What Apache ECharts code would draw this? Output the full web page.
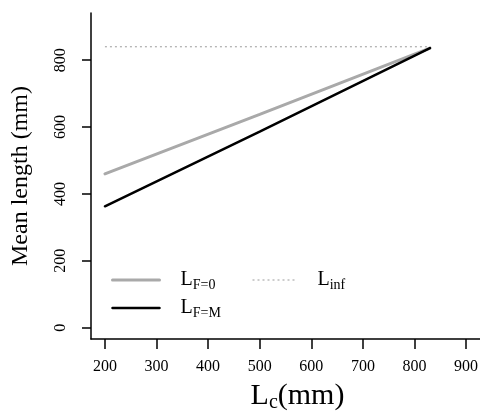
<!DOCTYPE html>
<html>
<head>
<meta charset="utf-8">
<script src="https://cdn.jsdelivr.net/npm/echarts@6/dist/echarts.min.js"></script>
<style>
  html, body { margin: 0; padding: 0; background: #fff; }
  #chart { width: 480px; height: 412px; }
</style>
</head>
<body>
<div id="chart"></div>
<script>
// Size at first capture (Lc, mm) and mean length in the catch (mm)
const lc = [200, 500, 830];
const meanNoFishing = [460, 638, 836];   // L_{F=0}
const meanFishingM = [363, 586, 836];    // L_{F=M}
const lInfRange = [200, 830];
const lInfValue = [840, 840];            // asymptotic length

const xTicks = [200, 300, 400, 500, 600, 700, 800, 900];
const yTicks = [0, 200, 400, 600, 800];

const serif = '"Liberation Serif", "DejaVu Serif", serif';
const pairs = (xs, ys) => xs.map((x, i) => [x, ys[i]]);

const rich = {
  L: { fontFamily: serif, fontSize: 20, color: '#000' },
  s: { fontFamily: serif, fontSize: 14, color: '#000', padding: [10, 0, 0, 0] }
};
const legendLabel = {
  'F0': '{L|L}{s|F=0}',
  'FM': '{L|L}{s|F=M}',
  'Linf': '{L|L}{s|inf}'
};
// legend keys show only the line, no marker
const noMarker = { color: 'transparent', borderColor: 'transparent', borderWidth: 0 };

const chart = echarts.init(document.getElementById('chart'), null, { renderer: 'canvas' });
chart.setOption({
  animation: false,
  backgroundColor: '#fff',
  grid: { left: 91, right: 0, top: 13, bottom: 73, containLabel: false, outerBoundsMode: 'none' },
  xAxis: {
    type: 'value', min: 173, max: 927,
    splitLine: { show: false },
    axisLine: { show: true, onZero: false, lineStyle: { color: '#000', width: 1.5 } },
    axisTick: { show: true, length: 10, lineStyle: { color: '#000', width: 1.5 }, customValues: xTicks },
    axisLabel: { customValues: xTicks, margin: 20, fontFamily: serif, fontSize: 16, color: '#000' },
    name: '{L|L}{c|c}{p|(mm)}',
    nameLocation: 'middle', nameGap: 40,
    nameTextStyle: {
      padding: [0, 0, 0, 24],
      rich: {
        L: { fontFamily: serif, fontSize: 30, color: '#000' },
        c: { fontFamily: serif, fontSize: 20, color: '#000', padding: [14, 0, 0, 0] },
        p: { fontFamily: serif, fontSize: 30, color: '#000' }
      }
    }
  },
  yAxis: {
    type: 'value', min: -34, max: 941,
    splitLine: { show: false },
    axisLine: { show: true, onZero: false, lineStyle: { color: '#000', width: 1.5 } },
    axisTick: { show: true, length: 9, lineStyle: { color: '#000', width: 1.5 }, customValues: yTicks },
    axisLabel: { customValues: yTicks, rotate: 90, margin: 22, fontFamily: serif, fontSize: 16, color: '#000' },
    name: 'Mean length (mm)',
    nameLocation: 'middle', nameRotate: 90, nameGap: 58,
    nameTextStyle: { fontFamily: serif, fontSize: 24, color: '#000' }
  },
  legend: [
    {
      data: [
        { name: 'F0', lineStyle: { width: 3 } },
        { name: 'FM', lineStyle: { width: 2.5 } }
      ],
      orient: 'vertical', left: 111, top: 270, padding: 0,
      itemWidth: 47, itemHeight: 14, itemGap: 6,
      itemStyle: noMarker,
      formatter: name => legendLabel[name],
      textStyle: { rich: rich, padding: [0, 0, 0, 16] }
    },
    {
      data: [{ name: 'Linf', lineStyle: { width: 1 } }],
      orient: 'vertical', left: 252, top: 270, padding: 0,
      itemWidth: 43, itemHeight: 14,
      itemStyle: noMarker,
      formatter: name => legendLabel[name],
      textStyle: { rich: rich, padding: [0, 0, 0, 17] }
    }
  ],
  series: [
    {
      name: 'Linf', type: 'line', symbol: 'none',
      data: pairs(lInfRange, lInfValue),
      lineStyle: { color: '#9a9a9a', width: 1, type: [2, 3] },
      itemStyle: { color: '#9a9a9a' }
    },
    {
      name: 'F0', type: 'line', symbol: 'none',
      data: pairs(lc, meanNoFishing),
      lineStyle: { color: '#a9a9a9', width: 3, cap: 'round' },
      itemStyle: { color: '#a9a9a9' }
    },
    {
      name: 'FM', type: 'line', symbol: 'none',
      data: pairs(lc, meanFishingM),
      lineStyle: { color: '#000', width: 2.5, cap: 'round' },
      itemStyle: { color: '#000' }
    }
  ]
});
</script>
</body>
</html>
